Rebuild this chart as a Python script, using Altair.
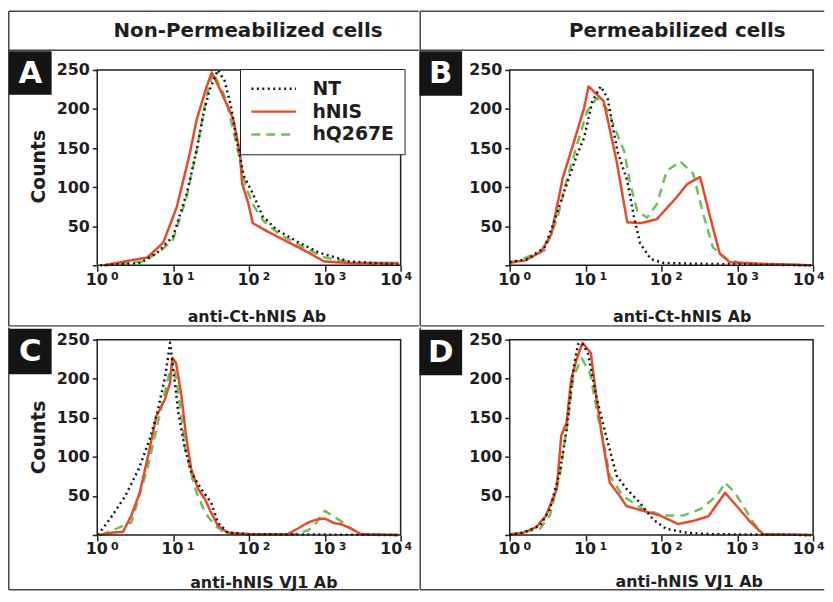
import altair as alt
import pandas as pd

# ---------------- data (x = decade, i.e. log10 of fluorescence; y = counts) ----
SERIES = ["NT", "hNIS", "hQ267E"]
COLORS = ["#161616", "#e8492b", "#6cc15b"]
DASHES = [[2, 3.5], [1, 0], [9, 6]]

HEADERS = ["Non-Permeabilized cells", "Permeabilized cells"]
LETTERS = ["A", "B", "C", "D"]
XTITLES = ["anti-Ct-hNIS Ab", "anti-Ct-hNIS Ab", "anti-hNIS VJ1 Ab", "anti-hNIS VJ1 Ab"]
YTITLE = "Counts"
X_TICKS = [0, 1, 2, 3, 4]
X_BASE = "10"
X_EXPONENTS = ["0", "1", "2", "3", "4"]
Y_TICKS = [0, 50, 100, 150, 200, 250]

A_NT_X = [0.04, 0.57, 0.79, 1.00, 1.18, 1.31, 1.40, 1.48, 1.59, 1.68, 1.76, 1.84, 1.93, 2.05, 2.18, 2.36, 2.66, 2.93, 3.32, 3.97]
A_NT_Y = [0, 3, 16, 37, 92, 147, 194, 224, 250, 236, 205, 160, 115, 92, 63, 46, 29, 16, 5, 1]
A_RED_X = [0.09, 0.31, 0.66, 0.87, 1.05, 1.22, 1.31, 1.44, 1.51, 1.62, 1.79, 1.88, 1.91, 1.99, 2.05, 2.23, 2.53, 2.79, 2.99, 3.32, 3.97]
A_RED_Y = [0, 4, 10, 29, 75, 143, 186, 228, 247, 225, 188, 145, 105, 80, 54, 44, 29, 16, 5, 3, 3]
A_GRN_X = [0.10, 0.61, 0.83, 1.00, 1.18, 1.31, 1.45, 1.53, 1.70, 1.87, 1.96, 2.05, 2.20, 2.40, 2.70, 3.00, 3.40, 3.97]
A_GRN_Y = [0, 5, 18, 33, 88, 147, 220, 247, 212, 140, 100, 78, 56, 40, 24, 10, 3, 1]

B_NT_X = [0.00, 0.24, 0.46, 0.59, 0.72, 0.89, 0.98, 1.09, 1.20, 1.29, 1.42, 1.55, 1.64, 1.72, 1.86, 2.03, 2.42, 3.97]
B_NT_Y = [4, 8, 23, 57, 95, 142, 163, 210, 229, 214, 146, 108, 61, 28, 8, 3, 2, 0]
B_RED_X = [0.00, 0.20, 0.41, 0.55, 0.70, 0.85, 0.98, 1.04, 1.24, 1.41, 1.55, 1.73, 1.94, 2.20, 2.34, 2.51, 2.69, 2.77, 2.90, 3.30, 3.70, 3.97]
B_RED_Y = [4, 6, 17, 40, 112, 159, 201, 229, 210, 133, 55, 54, 59, 87, 104, 113, 44, 15, 4, 2, 1, 0]
B_GRN_X = [0.00, 0.46, 0.63, 0.76, 0.89, 1.02, 1.15, 1.29, 1.42, 1.51, 1.59, 1.68, 1.81, 1.94, 2.07, 2.25, 2.42, 2.55, 2.68, 2.86, 3.07, 3.97]
B_GRN_Y = [2, 19, 61, 112, 155, 197, 214, 199, 167, 146, 104, 70, 61, 78, 121, 133, 117, 66, 23, 8, 2, 0]

C_NT_X = [0.01, 0.20, 0.37, 0.55, 0.70, 0.80, 0.90, 0.96, 1.07, 1.15, 1.24, 1.37, 1.50, 1.59, 1.72, 2.00, 3.97]
C_NT_Y = [0, 25, 50, 85, 125, 160, 205, 246, 156, 114, 80, 59, 42, 16, 3, 1, 0]
C_RED_X = [0.03, 0.19, 0.34, 0.45, 0.56, 0.67, 0.78, 0.89, 0.96, 0.99, 1.04, 1.11, 1.17, 1.24, 1.33, 1.42, 1.50, 1.59, 1.72, 2.00, 2.51, 2.64, 2.78, 2.90, 3.00, 3.13, 3.21, 3.35, 3.48, 3.97]
C_RED_Y = [0, 3, 4, 25, 54, 101, 152, 173, 195, 227, 220, 178, 127, 84, 59, 46, 29, 12, 3, 1, 1, 8, 16, 20, 21, 15, 14, 8, 1, 0]
C_GRN_X = [0.05, 0.45, 0.67, 0.80, 0.93, 1.00, 1.07, 1.16, 1.29, 1.42, 1.55, 1.68, 2.00, 2.60, 2.78, 2.86, 3.00, 3.09, 3.21, 3.35, 3.48, 3.97]
C_GRN_Y = [0, 16, 88, 144, 199, 222, 182, 110, 59, 29, 12, 3, 1, 1, 6, 12, 31, 25, 18, 8, 1, 0]

D_NT_X = [0.00, 0.18, 0.40, 0.53, 0.66, 0.75, 0.84, 0.90, 0.95, 1.03, 1.14, 1.27, 1.41, 1.54, 1.71, 1.89, 2.06, 2.33, 2.64, 3.97]
D_NT_Y = [0, 3, 12, 33, 80, 135, 212, 244, 246, 233, 178, 127, 76, 59, 42, 20, 8, 3, 1, 0]
D_RED_X = [0.00, 0.18, 0.35, 0.48, 0.62, 0.68, 0.75, 0.81, 0.88, 0.96, 1.07, 1.14, 1.23, 1.32, 1.45, 1.54, 1.76, 1.98, 2.22, 2.42, 2.62, 2.84, 3.03, 3.16, 3.34, 3.97]
D_RED_Y = [1, 3, 10, 25, 59, 127, 144, 199, 224, 246, 233, 178, 118, 67, 50, 37, 31, 25, 14, 18, 24, 54, 33, 18, 1, 0]
D_GRN_X = [0.00, 0.40, 0.53, 0.66, 0.75, 0.84, 0.95, 1.06, 1.17, 1.23, 1.32, 1.49, 1.76, 2.02, 2.29, 2.51, 2.73, 2.84, 2.97, 3.08, 3.21, 3.34, 3.97]
D_GRN_Y = [0, 8, 25, 76, 135, 203, 226, 207, 148, 122, 76, 50, 33, 25, 25, 33, 50, 67, 54, 37, 16, 1, 0]

# ---------------- style ----------------
FONT = "DejaVu Sans"
INK = "#1e1e1e"
LINE = "#444444"
W, H = 306, 197
SW = 1.5  # border stroke width
HS = SW / 2
XTITLE_SIZE = 16


def one():
    return pd.DataFrame({"v": [0]})


def hrule(x0, x1, y):
    return alt.Chart(one()).mark_rule(color=LINE, strokeWidth=SW).encode(
        x=alt.value(x0), x2=alt.value(x1), y=alt.value(y))


def vrule(x, y0, y1):
    return alt.Chart(one()).mark_rule(color=LINE, strokeWidth=SW).encode(
        x=alt.value(x), y=alt.value(y0), y2=alt.value(y1))


def box(x0, x1, y0, y1, fill):
    return alt.Chart(one()).mark_rect(fill=fill, strokeWidth=0).encode(
        x=alt.value(x0), x2=alt.value(x1), y=alt.value(y0), y2=alt.value(y1))


def text(t, x, y, size, color=INK):
    return alt.Chart(pd.DataFrame({"t": [t]})).mark_text(
        font=FONT, fontWeight="bold", fontSize=size, color=color,
        align="center", baseline="middle").encode(
        text="t:N", x=alt.value(x), y=alt.value(y), size=alt.value(size))


def x_enc():
    return alt.X(
        "decade:Q",
        scale=alt.Scale(domain=[0, 4], nice=False, zero=False),
        axis=alt.Axis(
            values=X_TICKS,
            labelExpr="'" + X_BASE + "'",
            title=None,
            labelFont=FONT, labelFontWeight="bold", labelFontSize=16, labelColor=INK,
            labelAlign="center",
            labelOffset={"condition": {"test": "datum.value == 4", "value": -10}, "value": -1},
            labelBaseline="top", labelPadding=0, labelOverlap=False, labelFlush=False,
            tickSize=6, tickWidth=1.5, tickColor=INK, domain=False, grid=False, zindex=1,
        ),
    )


def y_enc(show_title, ty):
    kw = dict(
        values=Y_TICKS,
        labelExpr="datum.value == 0 ? '' : datum.label",
        labelFont=FONT, labelFontWeight="bold", labelFontSize=16, labelColor=INK,
        labelPadding=3, tickSize=5, tickWidth=1.5, tickColor=INK,
        domain=False, grid=False, zindex=1,
    )
    if show_title:
        kw.update(title=YTITLE, titleX=-59, titleY=ty, titleAngle=270,
                  titleAlign="center", titleBaseline="middle",
                  titleFont=FONT, titleFontWeight="bold", titleFontSize=19, titleColor=INK)
    else:
        kw.update(title=None)
    return alt.Y("count:Q", scale=alt.Scale(domain=[0, 250], nice=False), axis=alt.Axis(**kw))


LEGEND = alt.Legend(
    title=None, orient="none", legendX=144, legendY=-1,
    symbolType="stroke", symbolSize=2025, symbolStrokeWidth=2.5, clipHeight=20,
    labelFont=FONT, labelFontWeight="bold", labelFontSize=19, labelColor=INK,
    labelOffset=15, rowPadding=3, padding=10,
    strokeColor="#222222", fillColor="white", zindex=2,
)


def lines(xs, ys, name, xe, ye, legend):
    df = pd.DataFrame({"decade": xs, "count": ys, "series": [name] * len(xs)})
    color = alt.Color("series:N", scale=alt.Scale(domain=SERIES, range=COLORS))
    dash = alt.StrokeDash("series:N", scale=alt.Scale(domain=SERIES, range=DASHES))
    if legend:
        color = color.legend(LEGEND)
        dash = dash.legend(LEGEND)
    else:
        color = color.legend(None)
        dash = dash.legend(None)
    return alt.Chart(df).mark_line(strokeWidth=2.5, strokeJoin="round").encode(
        x=xe, y=ye, color=color, strokeDash=dash)


def exponents(xe, idx, dx):
    df = pd.DataFrame({"decade": [X_TICKS[i] for i in idx],
                       "exp": [X_EXPONENTS[i] for i in idx]})
    return alt.Chart(df).mark_text(
        font=FONT, fontWeight="bold", fontSize=11, color=INK,
        align="left", baseline="top", dx=dx).encode(
        x=xe, y=alt.value(H + 6), text="exp:N", size=alt.value(11))


def panel(data, letter, cell, lbox, xtitle, xt, show_counts, counts_y,
          edges, header=None, legend=False):
    cx0, cx1, cy0, cy1 = cell
    layers = [box(cx0, cx1, cy0, cy1, "white")]
    if "top" in edges:
        layers.append(hrule(cx0 + HS, cx1 - HS, cy0 + HS))
    if header is not None:
        htxt, hx, hline = header
        layers.append(hrule(cx0 + HS, cx1 - HS, hline))
        layers.append(text(htxt, hx, (cy0 + hline) / 2 + 1, 20))
    if "left" in edges:
        layers.append(vrule(cx0 + HS, cy0 + HS, cy1 - HS))
    if "bottom" in edges:
        layers.append(hrule(cx0 + HS, cx1 - HS, cy1 - HS))
    lx0, lx1, ly0, ly1 = lbox
    layers.append(box(lx0, lx1, ly0, ly1, "#141414"))
    layers.append(text(letter, (lx0 + lx1) / 2, (ly0 + ly1) / 2 + 1, 31, "white"))
    layers.append(text(xtitle, xt[0], xt[1], XTITLE_SIZE))
    xe = x_enc()
    ye = y_enc(show_counts, counts_y)
    (nx, ny), (rx, ry), (gx, gy) = data
    layers.append(lines(gx, gy, SERIES[2], xe, ye, legend))
    layers.append(lines(rx, ry, SERIES[1], xe, ye, legend))
    layers.append(lines(nx, ny, SERIES[0], xe, ye, legend))
    layers.append(exponents(xe, [0, 1, 2, 3], 14))
    layers.append(exponents(xe, [4], 4))
    layers.append(alt.Chart(one()).mark_rect(filled=False, stroke=INK, strokeWidth=1.5).encode(
        x=alt.value(0), x2=alt.value(W), y=alt.value(0), y2=alt.value(H)))
    return alt.layer(*layers).properties(width=W, height=H)


pA = panel([(A_NT_X, A_NT_Y), (A_RED_X, A_RED_Y), (A_GRN_X, A_GRN_Y)], LETTERS[0],
           (-90, 325, -60, 259), (-89, -46, -19, 25), XTITLES[0], (161, 249),
           True, 97, ["top", "left", "bottom"], header=(HEADERS[0], 152, -20), legend=True)
pB = panel([(B_NT_X, B_NT_Y), (B_RED_X, B_RED_Y), (B_GRN_X, B_GRN_Y)], LETTERS[1],
           (-91, 318, -60, 259), (-91, -48, -19, 26), XTITLES[1], (174, 249),
           False, 97, ["top", "left", "bottom"], header=(HEADERS[1], 169, -20))
pC = panel([(C_NT_X, C_NT_Y), (C_RED_X, C_RED_Y), (C_GRN_X, C_GRN_Y)], LETTERS[2],
           (-90, 325, -13, 253), (-89, -46, -11, 35), XTITLES[2], (168, 245),
           True, 98, ["left", "bottom"])
pD = panel([(D_NT_X, D_NT_Y), (D_RED_X, D_RED_Y), (D_GRN_X, D_GRN_Y)], LETTERS[3],
           (-91, 318, -13, 253), (-91, -48, -10, 36), XTITLES[3], (181, 244),
           False, 98, ["left", "bottom"])

chart = (
    alt.concat(pA, pB, pC, pD, columns=2, spacing=0, align="each",
               padding=0, background="white")
    .resolve_scale(color="independent", strokeDash="independent")
    .configure_view(strokeWidth=0)
)

chart.save("out.html", embed_options={"renderer": "svg", "actions": False})
